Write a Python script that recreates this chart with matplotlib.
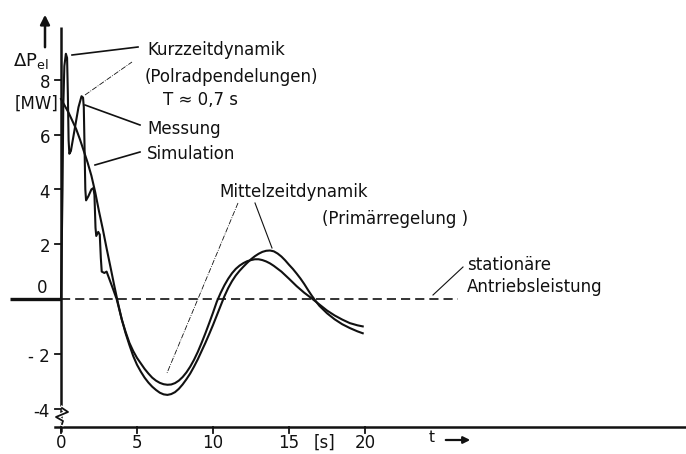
import matplotlib
matplotlib.use("Agg")
from matplotlib import pyplot as plt

plt.rcParams["font.family"] = ["DejaVu Sans"]
plt.rcParams["mathtext.default"] = "regular"

# values (t in s, delta P in MW)
meas_t = [0.0, 0.1, 0.15, 0.22, 0.32, 0.4, 0.45, 0.5, 0.55, 0.65, 0.9, 1.15, 1.35,
          1.45, 1.5, 1.55, 1.6, 1.65, 1.8, 2.0, 2.13, 2.2, 2.27, 2.32, 2.45, 2.55,
          2.62, 2.68, 2.85, 3.0, 3.1, 3.4, 3.66,
          4.0, 4.25, 4.5, 4.75, 5.0, 5.25, 5.5, 5.75, 6.0, 6.25, 6.5, 6.75, 7.0,
          7.25, 7.5, 7.75, 8.0, 8.25, 8.5, 8.75, 9.0, 9.25, 9.5, 9.75, 10.0,
          10.25, 10.5, 10.75, 11.0, 11.25, 11.5, 11.75, 12.0, 12.25, 12.5, 12.75,
          13.0, 13.25, 13.5, 13.75, 14.0, 14.25, 14.5, 14.75, 15.0, 15.25, 15.5,
          15.75, 16.0, 16.25, 16.5, 16.75, 17.0, 17.5, 18.0, 18.5, 19.0, 19.5, 19.85]
meas_v = [0.0, 4.0, 7.0, 8.5, 8.95, 8.8, 7.5, 5.8, 5.3, 5.4, 6.2, 7.0, 7.4,
          7.35, 7.0, 5.5, 4.0, 3.6, 3.75, 4.0, 4.05, 3.8, 2.6, 2.3, 2.45, 2.35,
          1.5, 1.0, 0.95, 1.0, 0.85, 0.4, 0.0,
          -0.75, -1.25, -1.68, -2.08, -2.4, -2.65, -2.87, -3.05, -3.2, -3.32, -3.42, -3.48, -3.5,
          -3.47, -3.4, -3.28, -3.12, -2.93, -2.72, -2.47, -2.2, -1.9, -1.6, -1.28, -0.95,
          -0.6, -0.25, 0.1, 0.4, 0.65, 0.86, 1.03, 1.18, 1.32, 1.45, 1.56,
          1.65, 1.72, 1.76, 1.77, 1.74, 1.66, 1.55, 1.41, 1.25, 1.1, 0.93,
          0.75, 0.55, 0.33, 0.12, -0.07, -0.25, -0.52, -0.74, -0.92, -1.06, -1.18, -1.25]

sim_t = [0.0, 0.5, 1.0, 1.25, 1.5, 1.75, 2.0, 2.25, 2.5, 2.75, 3.0, 3.25, 3.5, 3.75,
         4.0, 4.25, 4.5, 4.75, 5.0, 5.25, 5.5, 5.75, 6.0, 6.25, 6.5, 6.75, 7.0,
         7.25, 7.5, 7.75, 8.0, 8.25, 8.5, 8.75, 9.0, 9.25, 9.5, 9.75, 10.0,
         10.25, 10.5, 10.75, 11.0, 11.25, 11.5, 11.75, 12.0, 12.25, 12.5, 12.75,
         13.0, 13.25, 13.5, 13.75, 14.0, 14.5, 15.0, 15.5, 16.0, 16.5, 17.0,
         17.5, 18.0, 18.5, 19.0, 19.5, 19.85]
sim_v = [7.3, 6.8, 6.2, 5.82, 5.4, 4.98, 4.5, 3.9, 3.2, 2.55, 1.85, 1.18, 0.5, -0.15,
         -0.75, -1.2, -1.6, -1.9, -2.15, -2.35, -2.55, -2.72, -2.87, -2.98, -3.06, -3.11, -3.13,
         -3.12, -3.07, -2.98, -2.85, -2.68, -2.47, -2.22, -1.93, -1.6, -1.25, -0.88, -0.5,
         -0.1, 0.22, 0.5, 0.74, 0.94, 1.1, 1.22, 1.31, 1.38, 1.42, 1.45,
         1.45, 1.42, 1.37, 1.3, 1.21, 1.0, 0.74, 0.47, 0.23, 0.02, -0.2,
         -0.42, -0.6, -0.75, -0.88, -0.96, -1.0]

x_ticks = [0, 5, 10, 15, 20]
y_ticks = [8, 6, 4, 2, -2, -4]
y_labels = ["8", "6", "4", "2", "- 2", "-4"]

W, H = 686, 454
X0, KX = 61, 15.2
Y0, KY = 299, 27.4


def P(x, y):
    # pixel position -> data coords
    return (x - X0) / KX, (Y0 - y) / KY


fig = plt.figure(figsize=(W / 100, H / 100), dpi=100)
ax = fig.add_axes([0, 0, 1, 1])
ax.axis("off")
ax.set_xlim(P(0, 0)[0], P(W, 0)[0])
ax.set_ylim(P(0, H)[1], P(0, 0)[1])

ink = "#111111"
x_axis_y = P(0, 427)[1]

# axes
ax.plot([0, 0], [x_axis_y - 0.2, P(0, 27)[1]], color=ink, lw=1.8, solid_capstyle="butt")
ax.plot([P(55, 0)[0], P(W, 0)[0]], [x_axis_y, x_axis_y], color=ink, lw=1.8)
ax.plot([P(10, 0)[0], 0], [0, 0], color=ink, lw=2.4, solid_capstyle="butt")
zz = [P(62, 408), P(68, 412), P(56, 417), P(63, 421), P(62, 424)]
ax.plot([p[0] for p in zz], [p[1] for p in zz], color="white", lw=3)
ax.plot([p[0] for p in zz], [p[1] for p in zz], color=ink, lw=1.3)

ax.annotate("", xy=P(45, 12), xytext=P(45, 50),
            arrowprops=dict(arrowstyle="-|>", color=ink, lw=1.8, mutation_scale=14))

for t in x_ticks:
    ax.plot([t, t], [x_axis_y, P(0, 433)[1]], color=ink, lw=1.3)
    ax.text(t, P(0, 443)[1], str(t), ha="center", va="center", fontsize=12, color=ink)
for v, lab in zip(y_ticks, y_labels):
    ax.plot([P(55, 0)[0], 0], [v, v], color=ink, lw=1.3)
    ax.text(P(50, 0)[0], v - 0.12, lab, ha="right", va="center", fontsize=12, color=ink)
ax.text(*P(42, 288), "0", ha="center", va="center", fontsize=12, color=ink)

ax.text(*P(325, 443), "[s]", ha="center", va="center", fontsize=12, color=ink)
ax.text(*P(432, 437), "t", ha="center", va="center", fontsize=11, color=ink)
ax.annotate("", xy=P(473, 440), xytext=P(443, 440),
            arrowprops=dict(arrowstyle="-|>", color=ink, lw=1.6, mutation_scale=10))

ax.text(*P(31, 61), r"$\Delta P_{el}$", ha="center", va="center", fontsize=13, color=ink)
ax.text(*P(37, 104), "[MW]", ha="center", va="center", fontsize=12, color=ink)

# reference line
ax.plot([0, P(458, 0)[0]], [0, 0], color=ink, lw=1.2, linestyle=(0, (5.5, 3.0)))

# curves
ax.plot(meas_t, meas_v, color=ink, lw=1.5, solid_joinstyle="round")
ax.plot(sim_t, sim_v, color=ink, lw=1.5, solid_joinstyle="round")

# leader lines
leaders = [
    ((72, 55), (138, 47), "-", 1.2),
    ((85, 95), (132, 62), "-.", 0.6),
    ((85, 105), (140, 125), "-", 1.2),
    ((95, 165), (140, 152), "-", 1.2),
    ((238, 203), (167, 373), "-.", 0.6),
    ((255, 203), (272, 248), "-", 0.8),
    ((433, 295), (463, 267), "-", 0.8),
]
for a, b, ls, lw in leaders:
    pa, pb = P(*a), P(*b)
    ax.plot([pa[0], pb[0]], [pa[1], pb[1]], color=ink, lw=lw, linestyle=ls)

labels = [
    ((147, 50), "Kurzzeitdynamik"),
    ((145, 77), "(Polradpendelungen)"),
    ((163, 100), "T \u2248 0,7 s"),
    ((147, 129), "Messung"),
    ((147, 154), "Simulation"),
    ((219, 192), "Mittelzeitdynamik"),
    ((322, 219), "(Primärregelung )"),
    ((467, 265), "stationäre"),
    ((467, 287), "Antriebsleistung"),
]
for (x, y), s in labels:
    ax.text(*P(x, y), s, ha="left", va="center", fontsize=12, color=ink)

fig.savefig("out.png", dpi=100, facecolor="white")
